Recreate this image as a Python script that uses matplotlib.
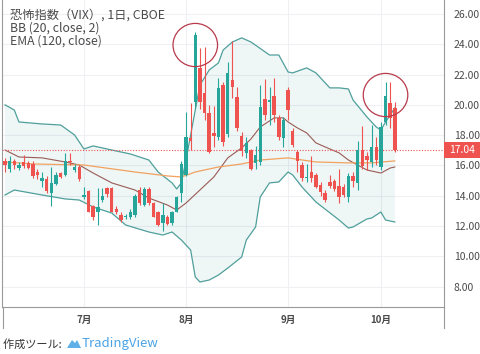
import numpy as np
import matplotlib
matplotlib.use("Agg")
import matplotlib.pyplot as plt
from matplotlib.patches import Ellipse, Polygon, Rectangle
from matplotlib.lines import Line2D
import matplotlib.transforms as mtransforms

plt.rcParams['font.family'] = ['Noto Sans CJK JP', 'DejaVu Sans']

# daily bars, Jun 6 - Oct 4 (2019)
dates = ["06-06", "06-07", "06-10", "06-11", "06-12", "06-13", "06-14", "06-17", "06-18", "06-19",
         "06-20", "06-21", "06-24", "06-25", "06-26", "06-27", "06-28",
         "07-01", "07-02", "07-03", "07-05", "07-08", "07-09", "07-10", "07-11", "07-12",
         "07-15", "07-16", "07-17", "07-18", "07-19", "07-22", "07-23", "07-24", "07-25", "07-26",
         "07-29", "07-30", "07-31",
         "08-01", "08-02", "08-05", "08-06", "08-07", "08-08", "08-09", "08-12", "08-13", "08-14",
         "08-15", "08-16", "08-19", "08-20", "08-21", "08-22", "08-23", "08-26", "08-27", "08-28",
         "08-29", "08-30",
         "09-03", "09-04", "09-05", "09-06", "09-09", "09-10", "09-11", "09-12", "09-13", "09-16",
         "09-17", "09-18", "09-19", "09-20", "09-23", "09-24", "09-25", "09-26", "09-27", "09-30",
         "10-01", "10-02", "10-03", "10-04"]

opens = [16.3, 15.75, 16.3, 15.85, 16.25, 16.15, 16.1, 15.6, 14.95, 15.1,
         14.2, 14.8, 15.5, 15.4, 16.3, 15.7, 15.9,
         13.9, 14.3, 13.3, 12.95, 13.7, 14.5, 14.5, 13.1, 12.75,
         12.6, 12.6, 12.7, 14.4, 13.4, 14.45, 13.5, 12.9, 12.2, 12.6,
         12.2, 12.95, 14.2,
         15.4, 17.8, 20.2, 22.4, 20.8, 19.45, 18.15, 17.9, 21.3, 18.1,
         21.65, 20.5, 17.95, 16.85, 17.0, 16.15, 16.2, 20.4, 20.2, 20.6,
         19.1, 17.8,
         21.0, 18.3, 16.9, 16.0, 15.2, 15.6, 15.35, 14.7, 14.2, 14.9,
         14.95, 14.65, 14.6, 13.95, 15.3, 14.85, 17.0, 16.6, 16.25, 17.2,
         15.9, 18.9, 20.15, 19.8]
highs = [16.5, 16.6, 16.4, 16.2, 16.7, 16.3, 16.3, 15.8, 15.6, 15.3,
         15.9, 15.6, 15.6, 16.8, 16.8, 16.1, 16.0,
         14.6, 14.4, 13.4, 14.5, 14.5, 14.6, 14.6, 13.3, 12.9,
         12.8, 13.1, 14.1, 14.6, 14.6, 14.6, 13.6, 13.0, 13.5, 12.7,
         13.0, 14.0, 16.3,
         19.5, 20.1, 24.8, 23.75, 23.85, 20.0, 19.9, 21.8, 21.5, 22.85,
         24.2, 21.2, 18.2, 17.9, 17.1, 17.3, 21.3, 21.7, 21.2, 21.8,
         19.3, 19.2,
         21.2, 18.5, 17.0, 16.2, 16.1, 16.6, 15.5, 14.9, 14.4, 15.4,
         15.1, 15.8, 14.8, 15.5, 15.6, 17.6, 18.6, 16.9, 18.7, 17.9,
         18.9, 21.5, 21.5, 20.2]
lows = [15.6, 15.6, 15.8, 15.7, 15.85, 15.75, 15.2, 15.1, 14.6, 14.2,
        13.3, 14.7, 15.2, 15.3, 16.0, 15.6, 15.0,
        13.8, 12.9, 12.4, 12.05, 13.6, 13.9, 12.9, 12.8, 12.3,
        12.5, 12.5, 12.6, 13.4, 13.3, 13.4, 12.6, 12.0, 11.7, 12.1,
        12.1, 12.9, 13.6,
        15.3, 17.0, 19.8, 19.7, 19.0, 16.8, 17.2, 17.7, 17.3, 17.9,
        20.45, 18.3, 16.6, 16.5, 15.7, 15.8, 16.0, 19.0, 18.7, 18.9,
        17.7, 17.2,
        19.0, 17.2, 15.6, 15.0, 14.9, 14.9, 14.5, 14.0, 13.6, 14.5,
        14.3, 13.5, 13.9, 13.6, 14.6, 14.4, 15.8, 15.7, 15.9, 16.0,
        15.7, 18.7, 18.5, 16.9]
closes = [16.0, 16.3, 16.05, 16.0, 15.95, 15.85, 15.3, 15.35, 15.15, 14.33,
          14.85, 15.4, 15.26, 16.28, 16.21, 15.9, 15.08,
          14.06, 12.93, 12.57, 13.28, 13.96, 14.09, 12.93, 12.93, 12.39,
          12.68, 12.95, 13.97, 13.53, 14.45, 13.53, 12.61, 12.07, 12.74, 12.16,
          12.9, 13.94, 16.12,
          17.87, 17.61, 24.59, 20.17, 19.49, 16.91, 17.97, 21.09, 17.52, 22.10,
          21.18, 18.47, 16.95, 17.5, 15.8, 16.68, 19.87, 19.32, 20.31, 19.35,
          17.88, 18.98,
          19.66, 17.33, 16.27, 15.15, 15.27, 15.2, 14.61, 14.22, 13.74, 14.67,
          14.44, 13.95, 14.05, 15.32, 14.95, 17.05, 15.96, 16.35, 17.22, 16.36,
          18.56, 20.56, 19.12, 17.04]

# indicator lines (bar index, value)
bb_upper_idx = [0, 2, 3, 8, 12, 15, 17, 19, 23, 27, 31, 33, 36, 37, 38, 39, 41, 42, 44, 46,
                47, 49, 51, 53, 57, 59, 61, 62, 65, 67, 70, 72, 74, 75, 78, 80, 81, 82, 83, 84]
bb_upper = [20.0, 19.66, 18.87, 18.74, 18.67, 18.01, 17.09, 17.29, 17.02, 16.76,
            16.36, 15.57, 14.85, 14.45, 14.85, 16.36, 19.66, 21.31, 22.3, 22.77,
            23.62, 24.15, 24.42, 24.15, 23.29, 23.29, 22.17, 22.11, 22.44, 22.11,
            21.12, 21.12, 21.05, 20.32, 19.2, 18.54, 18.34, 18.87, 19.33, 19.8]
bb_lower_idx = [0, 2, 8, 13, 16, 19, 23, 26, 31, 34, 36, 38, 40, 41, 42, 44, 46, 48, 51, 52,
                54, 55, 57, 59, 61, 62, 64, 67, 72, 74, 75, 78, 79, 81, 82, 84]
bb_lower = [14.05, 14.38, 14.05, 13.79, 13.72, 13.26, 12.86, 12.07, 11.61, 11.41,
            11.61, 11.08, 10.42, 8.64, 8.31, 8.44, 8.77, 9.23, 9.96, 11.08,
            11.94, 13.92, 14.85, 14.91, 15.57, 15.37, 14.58, 13.59, 12.4, 11.87,
            11.94, 12.47, 12.53, 12.93, 12.4, 12.27]
bb_mid_idx = [0, 3, 8, 13, 16, 19, 23, 28, 31, 35, 37, 39, 42, 45, 48, 51, 53, 55, 58, 60,
              61, 63, 65, 67, 69, 72, 74, 78, 81, 83, 84]
bb_mid = [17.02, 16.56, 16.5, 16.23, 16.03, 15.5, 14.85, 14.38, 13.85, 13.39,
          13.06, 13.52, 14.38, 15.24, 16.5, 17.16, 17.75, 18.54, 19.14, 19.14,
          18.87, 18.48, 18.15, 17.49, 17.22, 16.83, 16.36, 15.7, 15.5, 15.83, 15.9]
ema_idx = [0, 6, 17, 28, 35, 38, 41, 46, 51, 55, 61, 67, 74, 79, 84]
ema120 = [16.23, 16.1, 16.03, 15.57, 15.31, 15.24, 15.57, 15.9, 16.1, 16.36,
          16.5, 16.23, 16.17, 16.17, 16.3]

highlight_bars = [41, 82]
yticks = [8, 10, 12, 14, 16, 18, 20, 22, 24, 26]
month_names = {"07": "7月", "08": "8月", "09": "9月", "10": "10月"}

up_col = '#26a69a'
down_col = '#ef5350'
band_col = '#4f9f9b'
mid_col = '#9a5b55'
ema_col = '#f2a25e'
txt_col = '#4a4a4a'

fig = plt.figure(figsize=(4.8, 3.54), dpi=100)
ax = fig.add_axes([2 / 480, 47 / 354, 442 / 480, 307 / 354])

x = np.arange(len(closes))
o = np.array(opens)
c = np.array(closes)
h = np.array(highs)
l = np.array(lows)

# bollinger band area
ax.fill(np.concatenate([bb_upper_idx, bb_lower_idx[::-1]]),
        np.concatenate([bb_upper, bb_lower[::-1]]),
        color='#198787', alpha=0.07, lw=0, zorder=1)
ax.plot(bb_upper_idx, bb_upper, color=band_col, lw=0.9, zorder=2)
ax.plot(bb_lower_idx, bb_lower, color=band_col, lw=0.9, zorder=2)
ax.plot(bb_mid_idx, bb_mid, color=mid_col, lw=0.8, zorder=2)
ax.plot(ema_idx, ema120, color=ema_col, lw=0.9, zorder=2)

# candles
cols = np.where(c >= o, up_col, down_col)
ax.vlines(x, l, h, colors=cols, lw=0.8, zorder=3)
body = np.maximum(np.abs(c - o), 0.06)
ax.bar(x, body, bottom=np.minimum(o, c), width=0.74, color=cols, lw=0, zorder=4)

# last price line + label on the price scale
last = closes[-1]
ax.axhline(last, color=down_col, lw=0.8, ls=(0, (1, 1.5)), zorder=2.5)
trans = mtransforms.blended_transform_factory(ax.transAxes, ax.transData)
ax.add_patch(Rectangle((1.0, last - 0.52), 36 / 442, 1.04, transform=trans,
                       fc=down_col, ec='none', clip_on=False, zorder=6))
ax.text(1.0 + 18 / 442, last, f"{last:.2f}", transform=trans, ha='center', va='center',
        color='white', fontsize=7.5, clip_on=False, zorder=7)

# highlight circles around the spikes
for i in highlight_bars:
    ax.add_patch(Ellipse((i, h[i] - 0.85), width=9.6, height=2.85, fill=False,
                         ec='#b83a4b', lw=0.9, zorder=5))

ax.set_xlim(-0.65, 94.6)
ax.set_ylim(6.66, 26.92)

ax.yaxis.tick_right()
ax.set_yticks(yticks)
ax.set_yticklabels([f"{v:.2f}" for v in yticks], fontsize=7.5, color=txt_col)
ax.tick_params(axis='y', length=0, pad=7)

mt, ml = [], []
for i, d in enumerate(dates):
    m = d[:2]
    if m in month_names and (i == 0 or dates[i - 1][:2] != m):
        mt.append(i)
        ml.append(month_names[m])
ax.set_xticks(mt)
ax.set_xticklabels(ml, fontsize=7, color=txt_col, fontweight='bold')
ax.tick_params(axis='x', length=0, pad=6)

ax.grid(True, color='#eef0f4', lw=0.8, zorder=0)
ax.set_axisbelow(True)
for s in ['left', 'bottom', 'right']:
    ax.spines[s].set_color('#9a9a9a')
    ax.spines[s].set_linewidth(0.8)
ax.spines['top'].set_visible(False)

# legend text
ax.text(0.018, 0.951, "恐怖指数（VIX）, 1日, CBOE", transform=ax.transAxes,
        fontsize=8.8, color=txt_col, va='center')
ax.text(0.018, 0.909, "BB (20, close, 2)", transform=ax.transAxes,
        fontsize=8.8, color=txt_col, va='center')
ax.text(0.018, 0.866, "EMA (120, close)", transform=ax.transAxes,
        fontsize=8.8, color=txt_col, va='center')

# frame of the time strip
for xp in [2.5 / 480, 444 / 480]:
    fig.add_artist(Line2D([xp, xp], [26 / 354, 47 / 354], color='#9a9a9a', lw=0.8))

# footer
fig.text(3 / 480, 10 / 354, "作成ツール: ", fontsize=8, color='#333333', va='center')
logo = Polygon([[67 / 480, 6 / 354], [72 / 480, 14 / 354], [75 / 480, 11 / 354],
                [77 / 480, 14 / 354], [81 / 480, 6 / 354]], closed=True,
               transform=fig.transFigure, fc='#5fb0e8', ec='none')
fig.add_artist(logo)
fig.text(82 / 480, 10 / 354, "TradingView", fontsize=9.5, color='#4aa3e6', va='center')

fig.savefig("out.png", dpi=100)
